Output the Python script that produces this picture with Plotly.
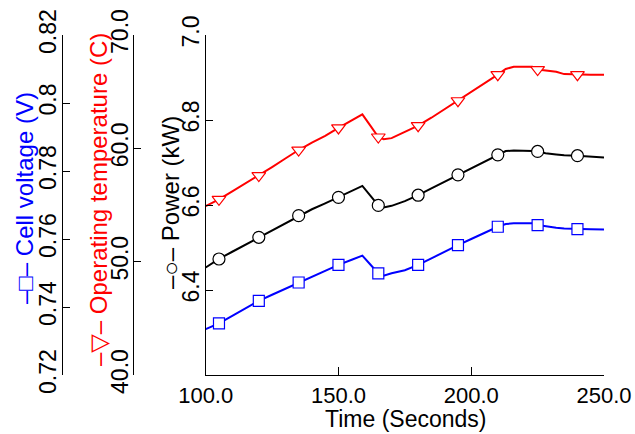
import plotly.graph_objects as go

# ---- data ----
time_s = [100, 105, 110, 115, 120, 125, 130, 135, 140, 145, 150, 155, 159, 162, 165, 167, 170,
          175, 180, 185, 190, 195, 200, 205, 210, 213, 216, 220, 223, 225, 228, 232, 235, 240, 245, 250]
temperature_c = [54.9, 55.5, 56.2, 56.9, 57.6, 58.35, 59.1, 59.85, 60.5, 61.1, 61.8, 62.5, 63.0, 62.0,
                 61.0, 60.8, 60.9, 61.45, 62.0, 62.7, 63.45, 64.2, 65.0, 65.75, 66.5, 67.0, 67.2, 67.2,
                 67.2, 66.95, 66.85, 66.75, 66.55, 66.5, 66.5, 66.5]
power_kw = [6.453, 6.473, 6.490, 6.507, 6.524, 6.541, 6.558, 6.575, 6.590, 6.604, 6.618, 6.632, 6.645,
            6.622, 6.599, 6.594, 6.598, 6.609, 6.623, 6.639, 6.655, 6.671, 6.687, 6.702, 6.718, 6.727,
            6.728, 6.728, 6.727, 6.726, 6.722, 6.719, 6.717, 6.716, 6.714, 6.712]
cell_voltage_v = [0.7335, 0.7352, 0.7374, 0.7396, 0.7418, 0.7436, 0.7454, 0.7472, 0.7489, 0.7506,
                  0.7524, 0.7539, 0.7551, 0.7525, 0.7499, 0.7492, 0.7499, 0.7508, 0.7524, 0.7543,
                  0.7563, 0.7582, 0.7600, 0.7618, 0.7636, 0.7644, 0.7646, 0.7646, 0.7646, 0.7641,
                  0.7637, 0.7633, 0.7631, 0.7629, 0.7629, 0.7628]
marker_times = [105, 120, 135, 150, 165, 180, 195, 210, 225, 240]

x_ticks = [100, 150, 200, 250]
power_ticks = [6.4, 6.6, 6.8, 7.0]
temp_ticks = [40, 50, 60, 70]
volt_ticks = [0.72, 0.74, 0.76, 0.78, 0.80, 0.82]
volt_ticktext = ["0.72", "0.74", "0.76", "0.78", "0.8", "0.82"]

FONT = "Liberation Sans, Arial, DejaVu Sans, sans-serif"
W, H = 635, 434
ML, MR, MT, MB = 0, 31, 35, 59
PW = W - ML - MR
PH = H - MT - MB


def px_x(p):
    return (p - ML) / PW


def px_y(p):
    return (H - MB - p) / PH


idx = [time_s.index(t) for t in marker_times]

fig = go.Figure()

series = [
    (temperature_c, "red", "triangle-down", 12, "y3"),
    (power_kw, "black", "circle", 12, "y"),
    (cell_voltage_v, "blue", "square", 11, "y2"),
]
for vals, col, sym, size, yax in series:
    fig.add_trace(go.Scatter(x=time_s, y=vals, mode="lines", yaxis=yax,
                             line=dict(color=col, width=2), showlegend=False,
                             hoverinfo="skip"))
    fig.add_trace(go.Scatter(x=[time_s[i] for i in idx], y=[vals[i] for i in idx],
                             mode="markers", yaxis=yax, showlegend=False,
                             marker=dict(symbol=sym, size=size, color="white",
                                         line=dict(color=col, width=1.2))))

ytickfont = dict(family=FONT, size=23, color="black")
xtickfont = dict(family=FONT, size=22, color="black")
common_y = dict(showline=True, linecolor="black", linewidth=1.3, ticks="inside",
                ticklen=7, tickcolor="black", tickangle=-90, showgrid=False,
                zeroline=False, tickfont=ytickfont, automargin=False,
                ticklabelstandoff=-4)

fig.update_layout(
    width=W, height=H,
    margin=dict(l=ML, r=MR, t=MT, b=MB, autoexpand=False),
    paper_bgcolor="white", plot_bgcolor="white",
    xaxis=dict(domain=[px_x(205.7), 1], range=[100, 250], tickvals=x_ticks,
               tickformat=".1f", showline=True, linecolor="black", linewidth=1.3,
               ticks="inside", ticklen=8, tickcolor="black", showgrid=False,
               zeroline=False, tickfont=xtickfont, automargin=False),
    yaxis=dict(range=[6.2, 7.0], tickvals=power_ticks, tickformat=".1f",
               anchor="x", **common_y),
    yaxis2=dict(range=[0.72, 0.82], tickvals=volt_ticks, ticktext=volt_ticktext,
                overlaying="y", anchor="free", position=px_x(61.7), side="left",
                **common_y),
    yaxis3=dict(range=[40, 70], tickvals=temp_ticks, tickformat=".1f",
                overlaying="y", anchor="free", position=px_x(133.3), side="left",
                **common_y),
)

titles = [
    ("\u2013\u25a1\u2013 Cell voltage (V)", "blue", 24, 198),
    ("\u2013\u25bd\u2013 Operating temperature (C)", "red", 98, 200),
    ("\u2013\u25cb\u2013 Power (kW)", "black", 170, 203),
]
for txt, col, cx, cy in titles:
    fig.add_annotation(text=txt, xref="paper", yref="paper", x=px_x(cx), y=px_y(cy),
                       xanchor="center", yanchor="middle", textangle=-90, showarrow=False,
                       font=dict(family=FONT, size=24, color=col))

fig.add_annotation(text="Time (Seconds)", xref="paper", yref="paper",
                   x=px_x(405), y=px_y(419), xanchor="center", yanchor="middle",
                   showarrow=False, font=dict(family=FONT, size=23, color="black"))

fig.write_html("out.html", config={"displayModeBar": False},
               post_script="document.body.style.margin='0';document.body.style.padding='0';")
